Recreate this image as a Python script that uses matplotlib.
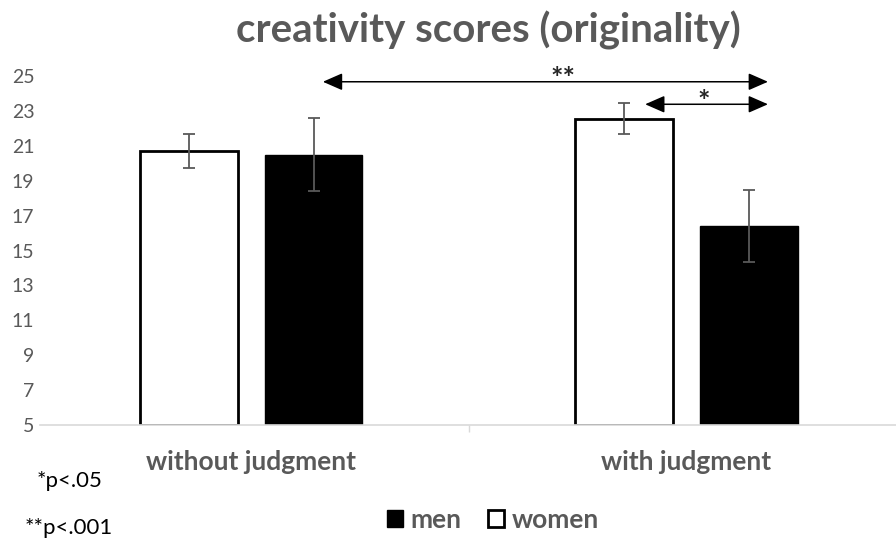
import matplotlib.pyplot as plt
from matplotlib.patches import Patch, ArrowStyle
import numpy as np

# scores per condition
conditions = ["without judgment", "with judgment"]
women_mean = [20.7, 22.55]
women_err = [0.95, 0.9]
men_mean = [20.5, 16.4]
men_err = [2.1, 2.05]

yticks = [5, 7, 9, 11, 13, 15, 17, 19, 21, 23, 25]

grey = "#595959"
plt.rcParams["font.family"] = ["Lato", "DejaVu Sans"]

fig = plt.figure(figsize=(8.96, 5.43), dpi=100)
ax = fig.add_axes([40 / 896, 1 - 425 / 543, 856 / 896, 349 / 543])

x = np.arange(len(conditions))
w = 0.225
off = 0.1435

ax.bar(x - off, [m - 5 for m in women_mean], w, bottom=5, color="white",
       edgecolor="black", linewidth=2, zorder=2)
ax.bar(x + off, [m - 5 for m in men_mean], w, bottom=5, color="black",
       edgecolor="black", linewidth=1, zorder=2)
ax.errorbar(x - off, women_mean, yerr=women_err, fmt="none", ecolor=grey,
            elinewidth=1.3, capsize=4.3, capthick=1.3, zorder=3)
ax.errorbar(x + off, men_mean, yerr=men_err, fmt="none", ecolor=grey,
            elinewidth=1.3, capsize=4.3, capthick=1.3, zorder=3)

ax.set_ylim(5, 25)
ax.set_xlim(-0.4845, 1.481)
ax.set_yticks(yticks)
ax.tick_params(axis="y", length=0, pad=4, labelsize=14, labelcolor=grey)
ax.set_xticks([0.5])
ax.set_xticklabels([])
ax.tick_params(axis="x", length=5, color="#d9d9d9", width=1)
for s in ["left", "right", "top"]:
    ax.spines[s].set_visible(False)
ax.spines["bottom"].set_color("#d9d9d9")
ax.spines["bottom"].set_linewidth(1.2)

for xi, lab in zip(x, conditions):
    ax.text(xi, -0.105, lab, transform=ax.get_xaxis_transform(), ha="center",
            va="center", fontsize=19, fontweight="bold", color=grey)

# significance arrows
astyle = ArrowStyle("<|-|>", head_length=0.8, head_width=0.35)
ax.annotate("", xy=(1.187, 24.67), xytext=(0.165, 24.67),
            arrowprops=dict(arrowstyle=astyle, mutation_scale=15, color="black",
                            lw=1.1, shrinkA=0, shrinkB=0), annotation_clip=False)
ax.annotate("", xy=(1.187, 23.38), xytext=(0.905, 23.38),
            arrowprops=dict(arrowstyle=astyle, mutation_scale=15, color="black",
                            lw=1.1, shrinkA=0, shrinkB=0), annotation_clip=False)
ax.text(0.716, 24.85, "**", ha="center", va="center", fontsize=21,
        fontweight="bold", color="#262626", clip_on=False)
ax.text(1.04, 23.5, "*", ha="center", va="center", fontsize=21,
        fontweight="bold", color="#262626", clip_on=False)

fig.text(488 / 896, 1 - 30 / 543, "creativity scores (originality)", ha="center",
         va="center", fontsize=29, fontweight="bold", color=grey)

fig.text(37 / 896, 1 - 481 / 543, "*p<.05", ha="left", va="center", fontsize=16,
         color="black")
fig.text(25 / 896, 1 - 528 / 543, "**p<.001", ha="left", va="center", fontsize=16,
         color="black")

handles = [Patch(facecolor="black", edgecolor="black"),
           Patch(facecolor="white", edgecolor="black", linewidth=2)]
leg = fig.legend(handles, ["men", "women"], loc="center", ncol=2,
                 bbox_to_anchor=(493 / 896, 1 - 520 / 543), frameon=False,
                 handlelength=0.6, handleheight=0.6, handletextpad=0.3,
                 columnspacing=1.0, prop={"weight": "bold", "size": 19})
for t in leg.get_texts():
    t.set_color(grey)

fig.savefig("out.png", dpi=100)
